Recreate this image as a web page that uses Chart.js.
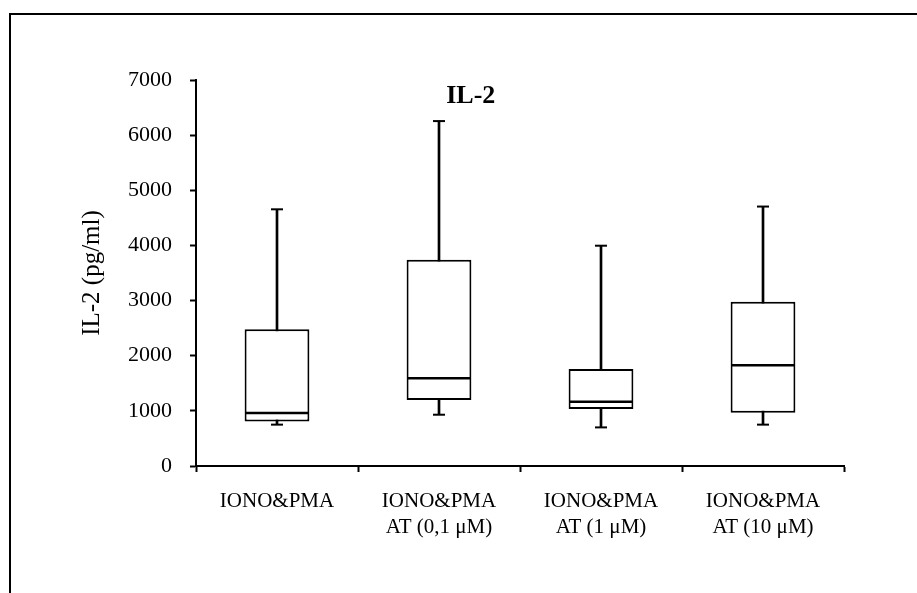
<!DOCTYPE html>
<html>
<head>
<meta charset="utf-8">
<title>IL-2</title>
<script src="https://cdn.jsdelivr.net/npm/chart.js@4.4.0/dist/chart.umd.min.js"></script>
<style>
  html, body { margin: 0; padding: 0; background: #fff; }
  canvas { display: block; }
</style>
</head>
<body>
<canvas id="chart" width="917" height="593"></canvas>
<script>
// IL-2 release per stimulation condition (pg/ml), box-and-whisker summary
const categories = [
  ['IONO&PMA'],
  ['IONO&PMA', 'AT (0,1 μM)'],
  ['IONO&PMA', 'AT (1 μM)'],
  ['IONO&PMA', 'AT (10 μM)']
];
const mins = [750, 930, 700, 750];
const q1 = [805, 1195, 1035, 965];
const medians = [960, 1590, 1165, 1825];
const q3 = [2480, 3740, 1760, 2980];
const maxs = [4655, 6255, 3995, 4705];

const yTicks = [0, 1000, 2000, 3000, 4000, 5000, 6000, 7000];

const serif = '"Liberation Serif", "Times New Roman", serif';

// outer frame + bold title inside the plot
const decorations = {
  id: 'decorations',
  afterDraw(chart) {
    const { ctx, chartArea } = chart;
    ctx.save();
    ctx.strokeStyle = '#000';
    ctx.lineWidth = 2;
    ctx.beginPath();
    ctx.moveTo(10, chart.height);
    ctx.lineTo(10, 14);
    ctx.lineTo(chart.width, 14);
    ctx.stroke();

    ctx.fillStyle = '#000';
    ctx.font = 'bold 26px ' + serif;
    ctx.textAlign = 'center';
    ctx.textBaseline = 'middle';
    const x = chartArea.left + (chartArea.right - chartArea.left) * 0.424;
    ctx.fillText('IL-2', x, chartArea.top + 16);
    ctx.restore();
  }
};

const whiskerCap = {
  type: 'line',
  showLine: false,
  pointStyle: 'line',
  pointRadius: 6,
  pointHoverRadius: 6,
  pointBorderWidth: 2,
  borderColor: '#000',
  order: 0
};

new Chart(document.getElementById('chart'), {
  type: 'bar',
  data: {
    labels: categories,
    datasets: [
      {
        label: 'median',
        type: 'line',
        data: medians,
        showLine: false,
        pointStyle: 'line',
        pointRadius: 31,
        pointHoverRadius: 31,
        pointBorderWidth: 2.5,
        borderColor: '#000',
        order: 0
      },
      Object.assign({ label: 'max', data: maxs }, whiskerCap),
      Object.assign({ label: 'min', data: mins }, whiskerCap),
      {
        label: 'box',
        data: categories.map((_, i) => [q1[i], q3[i]]),
        backgroundColor: '#fff',
        borderColor: '#000',
        borderWidth: 2,
        borderSkipped: false,
        barPercentage: 0.4,
        categoryPercentage: 1,
        grouped: false,
        order: 1
      },
      {
        label: 'whisker',
        data: categories.map((_, i) => [mins[i], maxs[i]]),
        backgroundColor: '#000',
        barThickness: 2,
        grouped: false,
        order: 2
      }
    ]
  },
  options: {
    responsive: false,
    animation: false,
    events: [],
    layout: {
      padding: { top: 80, right: 73, bottom: 0, left: 0 }
    },
    plugins: {
      legend: { display: false },
      tooltip: { enabled: false }
    },
    scales: {
      x: {
        afterFit(scale) { scale.height = 127; },
        border: { display: true, color: '#000', width: 2 },
        grid: {
          drawOnChartArea: false,
          drawTicks: true,
          tickLength: 6,
          tickColor: '#000',
          tickWidth: 2,
          offset: true
        },
        ticks: {
          color: '#000',
          padding: 16,
          maxRotation: 0,
          autoSkip: false,
          font: { family: serif, size: 21, lineHeight: 1.25 }
        }
      },
      y: {
        min: 0,
        max: 7000,
        afterFit(scale) { scale.width = 196; },
        afterBuildTicks(scale) {
          scale.ticks = yTicks.map(v => ({ value: v }));
        },
        border: { display: true, color: '#000', width: 2 },
        grid: {
          drawOnChartArea: false,
          drawTicks: true,
          tickLength: 6,
          tickColor: '#000',
          tickWidth: 2
        },
        ticks: {
          color: '#000',
          padding: 18,
          font: { family: serif, size: 22 },
          callback: v => String(v)
        },
        title: {
          display: true,
          text: 'IL-2 (pg/ml)',
          color: '#000',
          font: { family: serif, size: 25, lineHeight: 1.2 },
          padding: { top: 77, bottom: 0 }
        }
      }
    }
  },
  plugins: [decorations]
});
</script>
</body>
</html>
